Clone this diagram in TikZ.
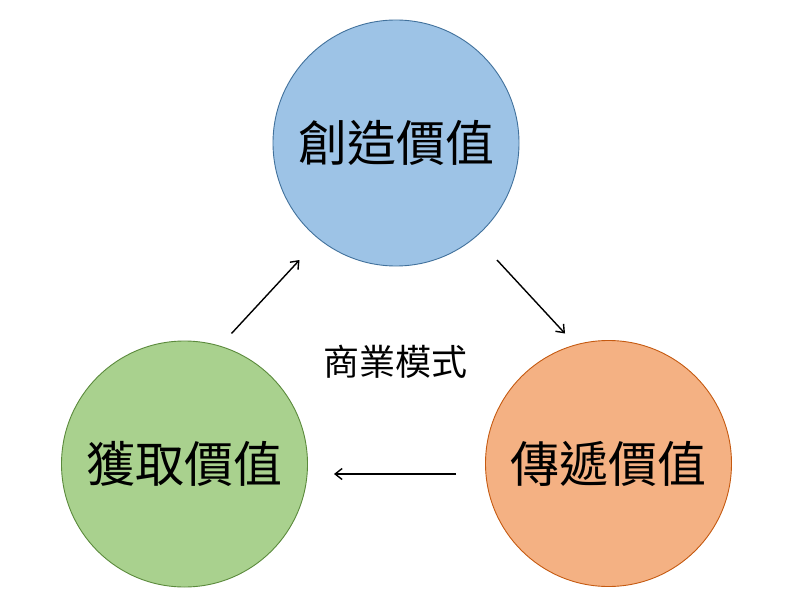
\documentclass[tikz,border=0pt]{standalone}
\usepackage{fontspec}
\newfontfamily\cjk{Noto Sans CJK TC}
\usetikzlibrary{arrows.meta}
\definecolor{cblue}{HTML}{9DC3E6}
\definecolor{cblueD}{HTML}{41719C}
\definecolor{cgreen}{HTML}{A9D18E}
\definecolor{cgreenD}{HTML}{5B8A3C}
\definecolor{corange}{HTML}{F4B183}
\definecolor{corangeD}{HTML}{C55A11}
\tikzset{
  bubble/.style={circle, minimum size=246pt, inner sep=0pt, line width=0.9pt,
    font=\cjk\fontsize{49pt}{49pt}\selectfont, text=black},
  flow/.style={-{Straight Barb[length=7pt,width=11pt,line width=1.4pt]}, line width=1.4pt, black},
  center label/.style={font=\cjk\fontsize{36pt}{36pt}\selectfont, text=black}
}
\begin{document}
\begin{tikzpicture}[x=1pt,y=-1pt]
\useasboundingbox[fill=white] (0,0) rectangle (800,604);
\node[bubble, fill=cblue, draw=cblueD] (create) at (396,143) {創造價值};
\node[bubble, fill=cgreen, draw=cgreenD] (capture) at (184.5,464) {獲取價值};
\node[bubble, fill=corange, draw=corangeD] (deliver) at (608.5,463.5) {傳遞價值};
\node[center label] (model) at (395.5,362) {商業模式};
\coordinate (a1s) at (231.5,333.5);
\coordinate (a1e) at (299.5,260);
\coordinate (a2s) at (497,260);
\coordinate (a2e) at (565,333.5);
\coordinate (a3s) at (456,474);
\coordinate (a3e) at (334,474);
\draw[flow] (a1s) -- (a1e);
\draw[flow] (a2s) -- (a2e);
\draw[flow] (a3s) -- (a3e);
\end{tikzpicture}
\end{document}
